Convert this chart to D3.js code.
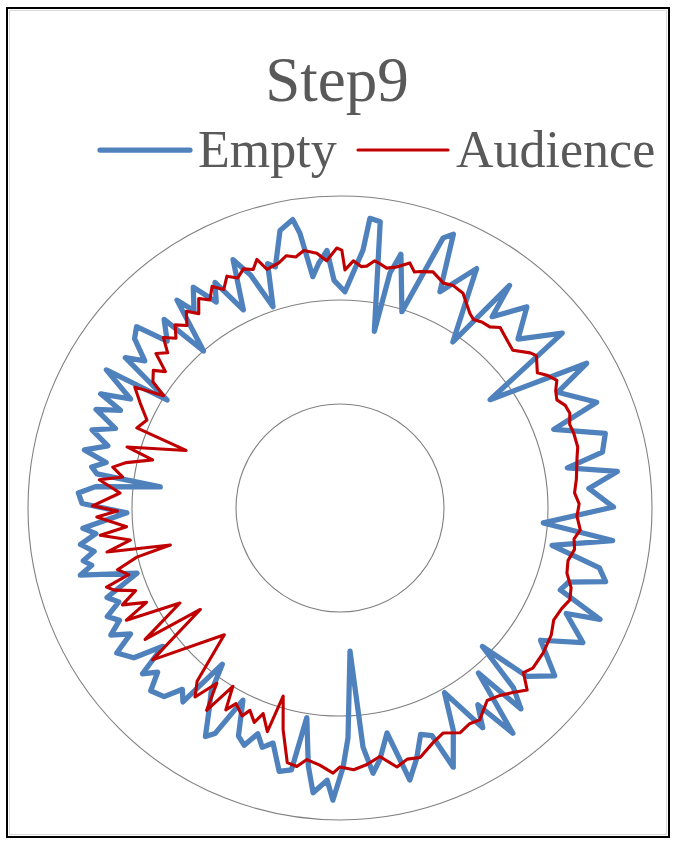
<!DOCTYPE html>
<html>
<head>
<meta charset="utf-8">
<script src="https://cdn.jsdelivr.net/npm/d3@7"></script>
<style>
  html, body { margin: 0; padding: 0; background: #ffffff; }
  svg { display: block; }
</style>
</head>
<body>
<svg id="chart" width="673" height="843"></svg>
<script>
// Radar chart "Step9": response level around the hall, empty vs. with audience.
const chartTitle = "Step9";
const seriesNames = ["Empty", "Audience"];
const gridLevels = [10, 20, 30];

// Empty hall: direction (degrees, clockwise from top) and level
const emptyAngles = [1.3, 5.1, 5.9, 8.0, 11.0, 12.0, 13.5, 17.5, 20.9, 22.5, 24.8, 29.7, 34.2, 37.3, 38.5, 42.9, 46.5, 51.8, 54.2, 59.6,
  62.0, 67.6, 69.8, 74.3, 78.0, 80.0, 82.5, 85.5, 89.8, 94.2, 96.8, 100.0, 103.0, 105.5, 108.0, 110.4, 113.2, 115.0, 119.0, 123.4,
  128.0, 132.0, 134.2, 136.0, 138.0, 140.0, 142.5, 145.0, 147.0, 150.5, 153.0, 156.4, 158.0, 160.4, 163.0, 165.6, 168.2, 171.0, 172.9, 174.5,
  176.0, 178.0, 179.3, 181.4, 182.7, 185.4, 187.0, 189.0, 190.5, 193.0, 195.9, 198.0, 200.0, 202.0, 204.0, 206.8, 209.0, 210.5, 213.0, 215.0,
  217.0, 219.0, 221.0, 223.0, 226.0, 228.0, 230.0, 232.0, 234.0, 237.0, 239.0, 241.0, 243.0, 245.0, 247.0, 249.0, 252.2, 255.5, 257.0, 258.4,
  260.0, 262.0, 264.0, 265.5, 268.7, 271.0, 273.3, 275.0, 276.7, 278.0, 279.4, 281.0, 282.8, 285.0, 287.5, 289.5, 292.0, 294.0, 295.5, 297.5,
  300.6, 302.0, 305.0, 307.0, 309.5, 311.7, 314.0, 317.0, 319.0, 321.9, 323.5, 326.4, 329.0, 331.0, 334.0, 336.7, 339.0, 341.6, 343.5, 345.0,
  347.8, 350.7, 351.7, 353.3, 355.0, 357.1, 358.5];
const emptyLevels = [20.8, 24.9, 28.0, 27.8, 17.3, 23.1, 25.1, 19.8, 27.8, 28.5, 22.9, 26.5, 19.3, 26.9, 23.5, 26.4, 23.6, 27.2, 17.8, 27.5,
  23.7, 26.7, 21.9, 26.5, 25.8, 22.2, 26.9, 24.0, 26.3, 19.6, 26.4, 20.7, 25.6, 26.5, 23.1, 22.6, 27.2, 24.0, 26.7, 23.1,
  26.2, 24.2, 19.1, 24.0, 26.0, 20.7, 27.3, 23.1, 25.2, 20.4, 24.0, 27.2, 23.6, 23.1, 25.2, 27.0, 22.1, 24.5, 25.7, 23.1,
  13.8, 22.1, 24.9, 28.1, 26.2, 27.5, 25.0, 20.4, 25.6, 26.0, 23.5, 24.2, 23.1, 24.6, 24.0, 20.7, 24.8, 25.5, 23.1, 21.6,
  18.8, 24.0, 23.1, 24.8, 25.3, 23.6, 24.8, 21.6, 24.5, 25.6, 23.5, 25.2, 23.8, 24.7, 23.1, 24.0, 20.5, 25.8, 24.5, 25.2,
  24.0, 25.2, 23.6, 24.8, 20.5, 24.8, 25.2, 23.6, 17.4, 23.6, 24.2, 22.9, 25.2, 23.1, 25.0, 22.9, 25.3, 23.1, 25.5, 22.7,
  26.1, 19.6, 25.2, 23.5, 25.6, 26.2, 23.1, 24.8, 20.0, 25.4, 23.6, 25.5, 23.1, 24.8, 21.2, 26.0, 24.0, 20.4, 24.5, 24.0,
  27.3, 28.1, 26.7, 22.4, 23.6, 24.8, 21.9];

// Hall with audience: direction (degrees, clockwise from top) and level
const audienceAngles = [0.4, 1.2, 3.1, 5.0, 6.3, 8.0, 9.3, 11.0, 13.2, 15.9, 17.5, 18.7, 21.5, 24.7, 27.0, 29.8, 33.7, 35.3, 37.5, 39.6,
  41.6, 43.0, 45.5, 47.6, 50.8, 52.2, 55.6, 57.5, 59.5, 61.5, 63.5, 65.5, 67.6, 70.0, 72.2, 75.6, 78.0, 80.2, 83.0, 86.3,
  89.0, 92.0, 95.2, 97.5, 100.0, 103.0, 106.0, 109.0, 111.8, 114.5, 117.7, 121.0, 125.5, 129.7, 131.9, 134.2, 136.9, 139.5, 142.6, 146.6,
  149.0, 151.9, 155.4, 158.5, 162.2, 165.0, 167.6, 170.9, 174.0, 177.0, 180.0, 181.5, 184.5, 187.5, 189.5, 191.7, 194.4, 196.8, 198.0, 200.5,
  201.8, 204.0, 205.2, 208.0, 209.5, 211.0, 213.4, 215.1, 217.5, 219.5, 222.4, 231.0, 234.0, 236.0, 239.3, 242.3, 244.0, 246.0, 248.0, 250.0,
  251.3, 252.5, 254.5, 256.4, 257.7, 259.3, 261.3, 263.5, 265.0, 267.9, 269.2, 270.5, 273.9, 276.7, 278.1, 280.2, 282.0, 284.4, 286.0, 290.5,
  291.5, 294.5, 297.7, 300.5, 302.5, 304.0, 306.4, 308.0, 310.0, 312.0, 314.0, 316.0, 318.0, 320.0, 322.0, 324.0, 326.0, 328.0, 330.0, 332.0,
  334.0, 336.0, 338.0, 340.0, 341.5, 343.0, 346.0, 348.0, 350.0, 352.0, 354.8, 356.9, 359.3];
const audienceLevels = [24.8, 22.9, 23.8, 23.3, 23.4, 24.0, 23.8, 23.5, 23.8, 24.5, 23.8, 24.0, 24.4, 23.8, 24.0, 23.8, 22.5, 22.2, 22.5, 22.6,
  23.2, 23.0, 22.7, 22.5, 23.6, 23.9, 23.0, 23.7, 24.2, 23.6, 23.3, 23.8, 23.9, 23.5, 23.6, 23.6, 23.3, 23.1, 22.9, 22.6,
  23.0, 22.8, 23.2, 22.7, 22.9, 22.5, 22.7, 23.5, 23.8, 23.4, 23.2, 23.7, 24.0, 24.1, 23.7, 25.1, 24.3, 23.7, 23.3, 24.4,
  24.2, 24.5, 23.8, 24.3, 25.2, 25.0, 25.5, 24.2, 24.8, 25.2, 24.9, 25.5, 24.8, 24.4, 25.2, 25.0, 22.0, 18.9, 22.6, 21.1,
  22.2, 21.3, 22.1, 21.3, 22.3, 20.0, 23.3, 20.6, 22.9, 21.6, 16.5, 23.2, 16.6, 22.6, 17.9, 23.2, 20.7, 22.9, 21.2, 23.1,
  23.7, 21.3, 22.2, 20.1, 16.7, 22.8, 20.4, 23.2, 20.6, 23.4, 21.4, 23.8, 21.2, 23.3, 21.1, 22.2, 21.0, 18.6, 21.3, 15.8,
  21.0, 20.4, 21.7, 22.9, 20.1, 21.7, 22.3, 21.3, 23.1, 22.3, 23.6, 22.7, 23.7, 22.9, 24.0, 23.1, 24.3, 23.6, 24.6, 23.8,
  24.8, 24.2, 24.8, 24.4, 25.2, 24.0, 24.3, 24.8, 24.5, 25.0, 24.6, 23.8, 25.0];

const seriesColors = ["#4f81bd", "#c00000"];
const seriesWidths = [5.25, 3.1];

const width = 673, height = 843;
const cx = 340, cy = 508;

const svg = d3.select("#chart");

// page background and frame
svg.append("rect").attr("x", 0).attr("y", 0).attr("width", width).attr("height", height).attr("fill", "#ffffff");
svg.append("rect").attr("x", 7).attr("y", 8).attr("width", 662).attr("height", 829)
  .attr("fill", "none").attr("stroke", "#000000").attr("stroke-width", 2);
svg.append("rect").attr("x", 9.5).attr("y", 10.5).attr("width", 657).attr("height", 824)
  .attr("fill", "none").attr("stroke", "#d9d9d9").attr("stroke-width", 1);

// title
svg.append("text")
  .attr("x", 337).attr("y", 101)
  .attr("text-anchor", "middle")
  .attr("font-family", "'Liberation Serif', 'Times New Roman', serif")
  .attr("font-size", 63)
  .attr("fill", "#595959")
  .text(chartTitle);

// legend
const legend = svg.append("g");
const legendItems = [
  { x: 100, name: seriesNames[0], color: seriesColors[0], w: seriesWidths[0] },
  { x: 358, name: seriesNames[1], color: seriesColors[1], w: seriesWidths[1] }
];
legendItems.forEach(it => {
  legend.append("line")
    .attr("x1", it.x).attr("x2", it.x + 90).attr("y1", 150).attr("y2", 150)
    .attr("stroke", it.color).attr("stroke-width", it.w).attr("stroke-linecap", "round");
  legend.append("text")
    .attr("x", it.x + 98).attr("y", 167)
    .attr("font-family", "'Liberation Serif', 'Times New Roman', serif")
    .attr("font-size", 52)
    .attr("fill", "#595959")
    .text(it.name);
});

// radial scale
const rScale = d3.scaleLinear().domain([0, 30]).range([0, 312]);

const plot = svg.append("g").attr("transform", `translate(${cx},${cy})`);

// grid rings
plot.selectAll("circle.grid")
  .data(gridLevels)
  .join("circle")
  .attr("class", "grid")
  .attr("r", d => rScale(d))
  .attr("fill", "none")
  .attr("stroke", "#808080")
  .attr("stroke-width", 1.1);

const radial = d3.lineRadial()
  .angle(d => d[0] * Math.PI / 180)
  .radius(d => rScale(d[1]))
  .curve(d3.curveLinearClosed);

const series = [
  d3.zip(emptyAngles, emptyLevels),
  d3.zip(audienceAngles, audienceLevels)
];

series.forEach((pts, i) => {
  plot.append("path")
    .attr("d", radial(pts))
    .attr("fill", "none")
    .attr("stroke", seriesColors[i])
    .attr("stroke-width", seriesWidths[i])
    .attr("stroke-linejoin", "round")
    .attr("stroke-linecap", "round");
});
</script>
</body>
</html>
